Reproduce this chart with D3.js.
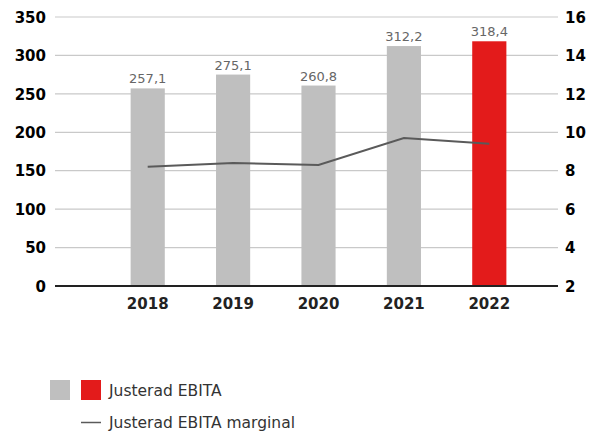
<!DOCTYPE html>
<html><head><meta charset="utf-8">
<script src="https://cdn.jsdelivr.net/npm/d3@7"></script>
<style>body{margin:0;background:#fff}svg{display:block}</style>
</head><body>
<script>
const years = ["2018","2019","2020","2021","2022"];
const ebita = [257.1, 275.1, 260.8, 312.2, 318.4];
const ebitaLabels = ["257,1","275,1","260,8","312,2","318,4"];
const margin = [8.2, 8.4, 8.3, 9.7, 9.4];
const leftTicks = [0,50,100,150,200,250,300,350];
const rightTicks = [2,4,6,8,10,12,14,16];
const legendBar = "Justerad EBITA";
const legendLine = "Justerad EBITA marginal";

const W=589,H=431;
const svg=d3.select("body").append("svg").attr("width",W).attr("height",H);
const font="DejaVu Sans, Verdana, sans-serif";
const xL=55,xR=558,yTop=17,yBot=286;
const y=d3.scaleLinear().domain([0,350]).range([yBot,yTop]);
const y2=d3.scaleLinear().domain([2,16]).range([yBot,yTop]);
const x=d3.scaleBand().domain(years).range([105,532]).paddingInner(0.6).paddingOuter(0.3);

// gridlines
svg.append("g").selectAll("line").data(leftTicks.filter(d=>d>0)).join("line")
  .attr("x1",xL).attr("x2",xR).attr("y1",d=>y(d)).attr("y2",d=>y(d))
  .attr("stroke","#c9c9c9").attr("stroke-width",1.2);

// left axis
const la=svg.append("g").attr("transform",`translate(${xL},0)`)
  .call(d3.axisLeft(y).tickValues(leftTicks).tickSize(0).tickPadding(9));
la.select(".domain").remove();
la.selectAll("text").attr("font-family",font).attr("font-size",15).attr("font-weight","bold").attr("fill","#000").attr("dy","0.35em");

// right axis
const ra=svg.append("g").attr("transform",`translate(${xR},0)`)
  .call(d3.axisRight(y2).tickValues(rightTicks).tickSize(0).tickPadding(7));
ra.select(".domain").remove();
ra.selectAll("text").attr("font-family",font).attr("font-size",15).attr("font-weight","bold").attr("fill","#000").attr("dy","0.35em");

// bars
svg.append("g").selectAll("rect").data(years).join("rect")
  .attr("x",d=>x(d)).attr("width",x.bandwidth())
  .attr("y",(d,i)=>y(ebita[i])).attr("height",(d,i)=>yBot-y(ebita[i]))
  .attr("fill",(d,i)=>i===years.length-1?"#e31b1b":"#bfbfbf");

// data labels
svg.append("g").selectAll("text").data(years).join("text")
  .attr("x",d=>x(d)+x.bandwidth()/2).attr("y",(d,i)=>y(ebita[i])-5)
  .attr("text-anchor","middle").attr("font-family",font).attr("font-size",13)
  .attr("fill","#666").text((d,i)=>ebitaLabels[i]);

// baseline
svg.append("line").attr("x1",xL).attr("x2",xR).attr("y1",yBot).attr("y2",yBot)
  .attr("stroke","#222").attr("stroke-width",2);

// x axis labels
const xa=svg.append("g").attr("transform",`translate(0,${yBot})`)
  .call(d3.axisBottom(x).tickSize(0).tickPadding(12));
xa.select(".domain").remove();
xa.selectAll("text").attr("font-family",font).attr("font-size",15).attr("font-weight","bold").attr("fill","#222");

// line
svg.append("path").datum(margin)
  .attr("d",d3.line().x((d,i)=>x(years[i])+x.bandwidth()/2).y(d=>y2(d)))
  .attr("fill","none").attr("stroke","#5a5a5a").attr("stroke-width",2);

// legend
svg.append("rect").attr("x",50).attr("y",380).attr("width",20).attr("height",20).attr("fill","#bfbfbf");
svg.append("rect").attr("x",81).attr("y",380).attr("width",20).attr("height",20).attr("fill","#e31b1b");
svg.append("text").attr("x",109).attr("y",396).attr("font-family",font).attr("font-size",15.5).attr("fill","#333").text(legendBar);
svg.append("line").attr("x1",81).attr("x2",101).attr("y1",422.5).attr("y2",422.5).attr("stroke","#5a5a5a").attr("stroke-width",1.5);
svg.append("text").attr("x",109).attr("y",428).attr("font-family",font).attr("font-size",15.5).attr("fill","#333").text(legendLine);
</script>
</body></html>
